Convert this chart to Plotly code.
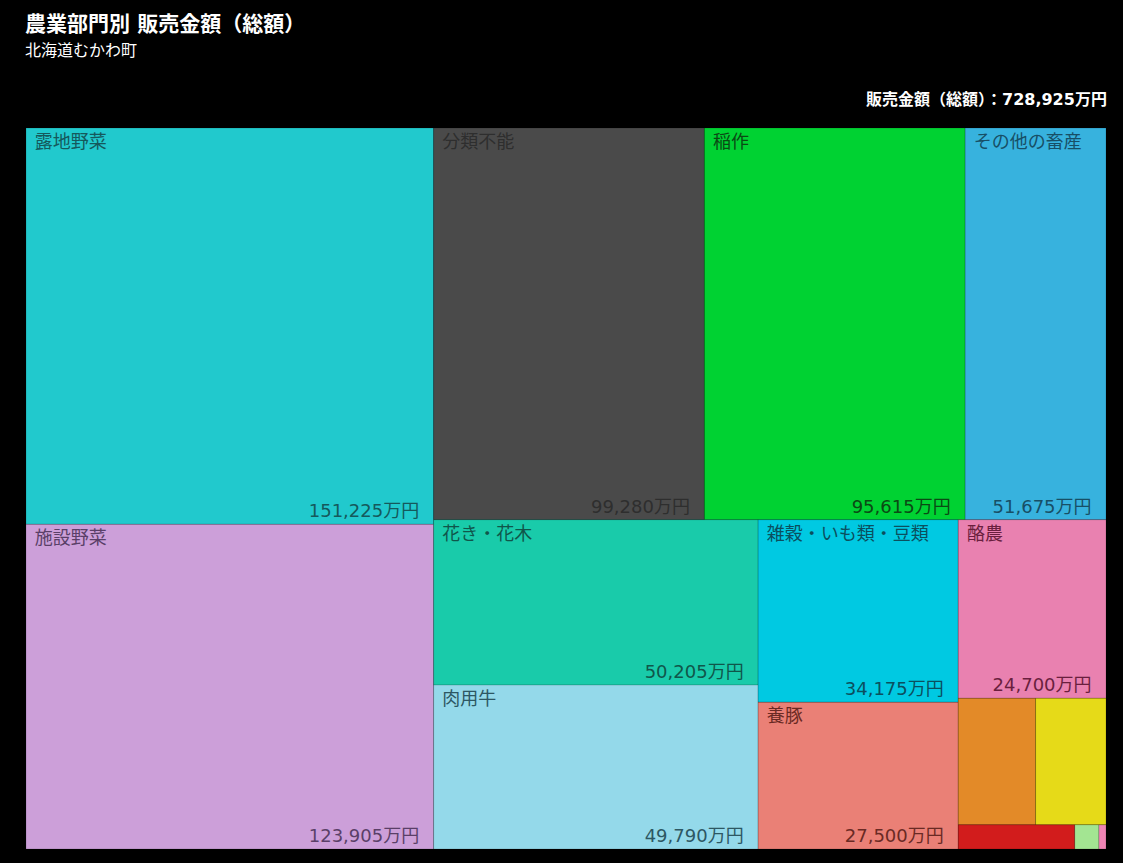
import plotly.graph_objects as go

# 農業部門別 販売金額（万円） — 北海道むかわ町
sectors = ["露地野菜", "施設野菜", "分類不能", "稲作", "その他の畜産",
           "花き・花木", "肉用牛", "雑穀・いも類・豆類", "養豚", "酪農",
           "麦類作", "工芸農作物", "その他の作物", "果樹類", "養鶏"]
sales = [151225, 123905, 99280, 95615, 51675,
         50205, 49790, 34175, 27500, 24700,
         9175, 8340, 2635, 545, 160]
fill_colors = ["#21c9cd", "#cc9fd9", "#4a4a4a", "#00d232", "#37b2de",
               "#19cbaa", "#94d9ea", "#00c9e2", "#ea8076", "#e981b0",
               "#e38a28", "#e6da18", "#d21c1c", "#a3e592", "#ef84b4"]
text_colors = ["#15595c", "#5a3f68", "#2e2e2e", "#0b4a14", "#174f66",
               "#10564a", "#2d5763", "#0b4f5e", "#6a2a24", "#6a1f3e",
               "#5a3a10", "#5a5410", "#5a1010", "#3a5a30", "#5a2040"]
labelled = 10  # sectors large enough to carry a caption

total = sum(sales)
NBSP = "\u00a0"
name_text = [NBSP + s if i < labelled else "" for i, s in enumerate(sectors)]
value_text = [f"{v:,}万円" + NBSP * 2 if i < labelled else "" for i, v in enumerate(sales)]
parents = [""] * len(sectors)

font_family = "DejaVu Sans, Noto Sans CJK JP, sans-serif"
domain = dict(x=[26 / 1123, 1106 / 1123], y=[14 / 863, 735 / 863])
# golden-ratio squarify keeps the cells close to the classic d3 layout
tiling = dict(packing="squarify", squarifyratio=1.618034, pad=0)
no_pad = dict(t=0, l=0, r=0, b=0)

fig = go.Figure()

# coloured cells with the sector name in the top-left corner
fig.add_trace(go.Treemap(
    labels=sectors, parents=parents, values=sales,
    text=name_text, texttemplate="%{text}", textposition="top left",
    textfont=dict(family=font_family, size=18, color=text_colors),
    marker=dict(colors=fill_colors, pad=no_pad,
                line=dict(width=0.5, color="rgba(0,0,0,0.3)")),
    hovertemplate="%{label}<br>%{value:,}万円<extra></extra>",
    pathbar=dict(visible=False), sort=True, domain=domain, tiling=tiling,
))

# transparent copy carrying the amount in the bottom-right corner
fig.add_trace(go.Treemap(
    labels=sectors, parents=parents, values=sales,
    text=value_text, texttemplate="%{text}", textposition="bottom right",
    textfont=dict(family=font_family, size=18, color=text_colors),
    marker=dict(colors=["rgba(0,0,0,0)"] * len(sectors), pad=no_pad, line=dict(width=0)),
    hoverinfo="skip",
    pathbar=dict(visible=False), sort=True, domain=domain, tiling=tiling,
))

fig.update_layout(
    width=1123, height=863,
    paper_bgcolor="#000000", plot_bgcolor="#000000",
    margin=dict(l=0, r=0, t=0, b=0),
    showlegend=False,
    font=dict(family=font_family, color="#ffffff"),
    annotations=[
        dict(text="<b>農業部門別 販売金額（総額）</b>", x=23 / 1123, y=1 - 24 / 863,
             xref="paper", yref="paper", xanchor="left", yanchor="middle",
             showarrow=False, font=dict(size=21, color="#ffffff", family=font_family)),
        dict(text="北海道むかわ町", x=23 / 1123, y=1 - 51 / 863,
             xref="paper", yref="paper", xanchor="left", yanchor="middle",
             showarrow=False, font=dict(size=16, color="#ffffff", family=font_family)),
        dict(text=f"<b>販売金額（総額）：{total:,}万円</b>", x=1109 / 1123, y=1 - 100 / 863,
             xref="paper", yref="paper", xanchor="right", yanchor="middle",
             showarrow=False, font=dict(size=16, color="#ffffff", family=font_family)),
    ],
)

fig.write_html("out.html")
